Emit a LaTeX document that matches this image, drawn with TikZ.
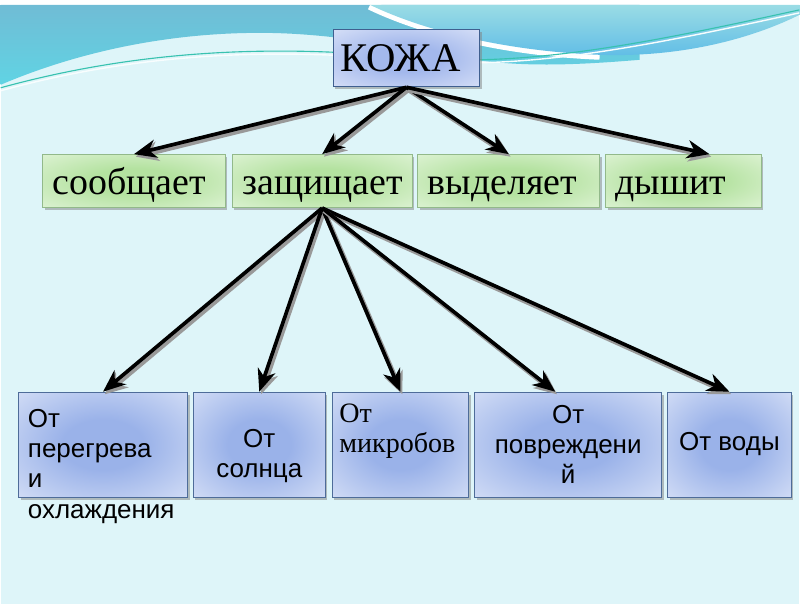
\documentclass[tikz,border=0pt]{standalone}
\usepackage{fontspec}
\setmainfont{Liberation Serif}
\setsansfont{Liberation Sans}
\usetikzlibrary{arrows.meta,shadows}

\definecolor{bg}{HTML}{DEF5F9}
\definecolor{ttop}{HTML}{70BCD5}
\definecolor{tbot}{HTML}{60D4E4}
\definecolor{rtop}{HTML}{9ADCE5}
\definecolor{rbot}{HTML}{5FBCE6}
\definecolor{wline}{HTML}{38C2B0}
\definecolor{kline}{HTML}{3F5F8F}
\definecolor{kin}{HTML}{A3B8EC}
\definecolor{kout}{HTML}{E8EDFB}
\definecolor{gline}{HTML}{92B98A}
\definecolor{gin}{HTML}{B4E2A0}
\definecolor{gout}{HTML}{EBF8E5}
\definecolor{bline}{HTML}{4E6C99}
\definecolor{bin}{HTML}{9AB2E9}
\definecolor{bout}{HTML}{E6ECFA}

\pgfdeclareradialshading{kshade}{\pgfpoint{0bp}{0bp}}{color(0bp)=(kin); color(12bp)=(kin); color(45bp)=(kout); color(50bp)=(kout)}
\pgfdeclareradialshading{gshade}{\pgfpoint{0bp}{0bp}}{color(0bp)=(gin); color(12bp)=(gin); color(45bp)=(gout); color(50bp)=(gout)}
\pgfdeclareradialshading{bshade}{\pgfpoint{0bp}{0bp}}{color(0bp)=(bin); color(12bp)=(bin); color(45bp)=(bout); color(50bp)=(bout)}

\begin{document}
\begin{tikzpicture}[x=0.025cm,y=-0.025cm,
    shad/.style={drop shadow={shadow xshift=1.5pt,shadow yshift=-1.8pt,opacity=0.5}},
    gbox/.style={draw=gline, line width=0.7pt, shade, shading=gshade,
        minimum height=1.325cm, inner xsep=0.25cm, text width=#1, align=left,
        text height=0.7cm, text depth=0.025cm,
        font=\fontsize{27}{28}\selectfont, shad},
    bbox/.style={draw=bline, line width=0.7pt, shade, shading=bshade,
        minimum height=2.625cm, minimum width=#1, shad},
    btext/.style={inner sep=0pt, font=\sffamily\fontsize{18.5}{21.5}\selectfont},
    arr/.style={line width=2.6pt, -{Stealth[length=16pt,width=13pt,inset=5pt]},
        preaction={draw=black!40, line width=3.4pt, -{Stealth[length=16pt,width=14pt,inset=5pt]},
        transform canvas={xshift=1.3pt,yshift=-1.8pt}}}]

    % background and waves
    \fill[bg] (0,0) rectangle (800,600);
    \shade[top color=ttop, bottom color=tbot] (0,0) -- (640,0) -- (640,55)
        .. controls (580,60) and (530,62) .. (483,56)
        .. controls (420,46) and (340,28) .. (260,28)
        .. controls (160,28) and (70,50) .. (0,80) -- cycle;
    \draw[white, line width=7pt] (370,0) .. controls (420,24) and (500,46) .. (600,50);
    \shade[top color=rtop, bottom color=rbot] (370,0) .. controls (420,24) and (500,46) .. (600,50)
        .. controls (690,53) and (760,30) .. (800,10) -- (800,0) -- cycle;
    \draw[white!80!bg, line width=1pt] (0,86) .. controls (120,53) and (250,41) .. (400,55)
        .. controls (520,67) and (640,43) .. (800,8);
    \draw[wline, line width=0.8pt] (0,83) .. controls (120,50) and (250,38) .. (400,52)
        .. controls (520,64) and (640,40) .. (800,5);

    % top
    \node[draw=kline, line width=0.7pt, shade, shading=kshade, shad,
        minimum height=1.425cm, inner xsep=0.175cm, text width=3.325cm, align=left,
        font=\fontsize{29}{30}\selectfont] (kozha) at (406.5,53.5) {КОЖА};

    % middle row
    \node[gbox=4.075cm] (soob)  at (133.5,176.5) {сообщает};
    \node[gbox=4.0cm]   (zasch) at (322,176.5)   {защищает};
    \node[gbox=4.05cm]  (vydel) at (509,176.5)   {выделяет};
    \node[gbox=3.4cm]   (dysh)  at (684,176.5)   {дышит};

    % bottom row
    \node[bbox=4.225cm] (b1) at (102.5,440.5) {};
    \node[bbox=3.3cm]   (b2) at (259,440.5)   {};
    \node[bbox=3.425cm] (b3) at (400.5,440.5) {};
    \node[bbox=4.675cm] (b4) at (568.5,440.5) {};
    \node[bbox=3.1cm]   (b5) at (730,440.5)   {};

    \node[btext, anchor=north west, align=left] (t1) at (27,405) {От\\перегрева\\и\\охлаждения};
    \node[btext, align=center] (t2) at (259,452) {От\\солнца};
    \node[inner sep=0pt, anchor=north west, align=left, font=\fontsize{20}{22}\selectfont]
        (t3) at (339,399) {От\\микробов};
    \node[btext, align=center] (t4) at (568.5,440) {От\\повреждени\\й};
    \node[btext] (t5) at (730,440) {От воды};

    % arrows
    \foreach \t in {soob,zasch,vydel}{
        \draw[arr] (kozha.south) -- (\t.north);
    }
    \draw[arr] (kozha.south) -- ([xshift=0.65cm]dysh.north);

    \foreach \t in {b1,b2,b3,b5}{
        \draw[arr] (zasch.south) -- (\t.north);
    }
    \draw[arr] (zasch.south) -- ([xshift=-0.325cm]b4.north);

\end{tikzpicture}
\end{document}
